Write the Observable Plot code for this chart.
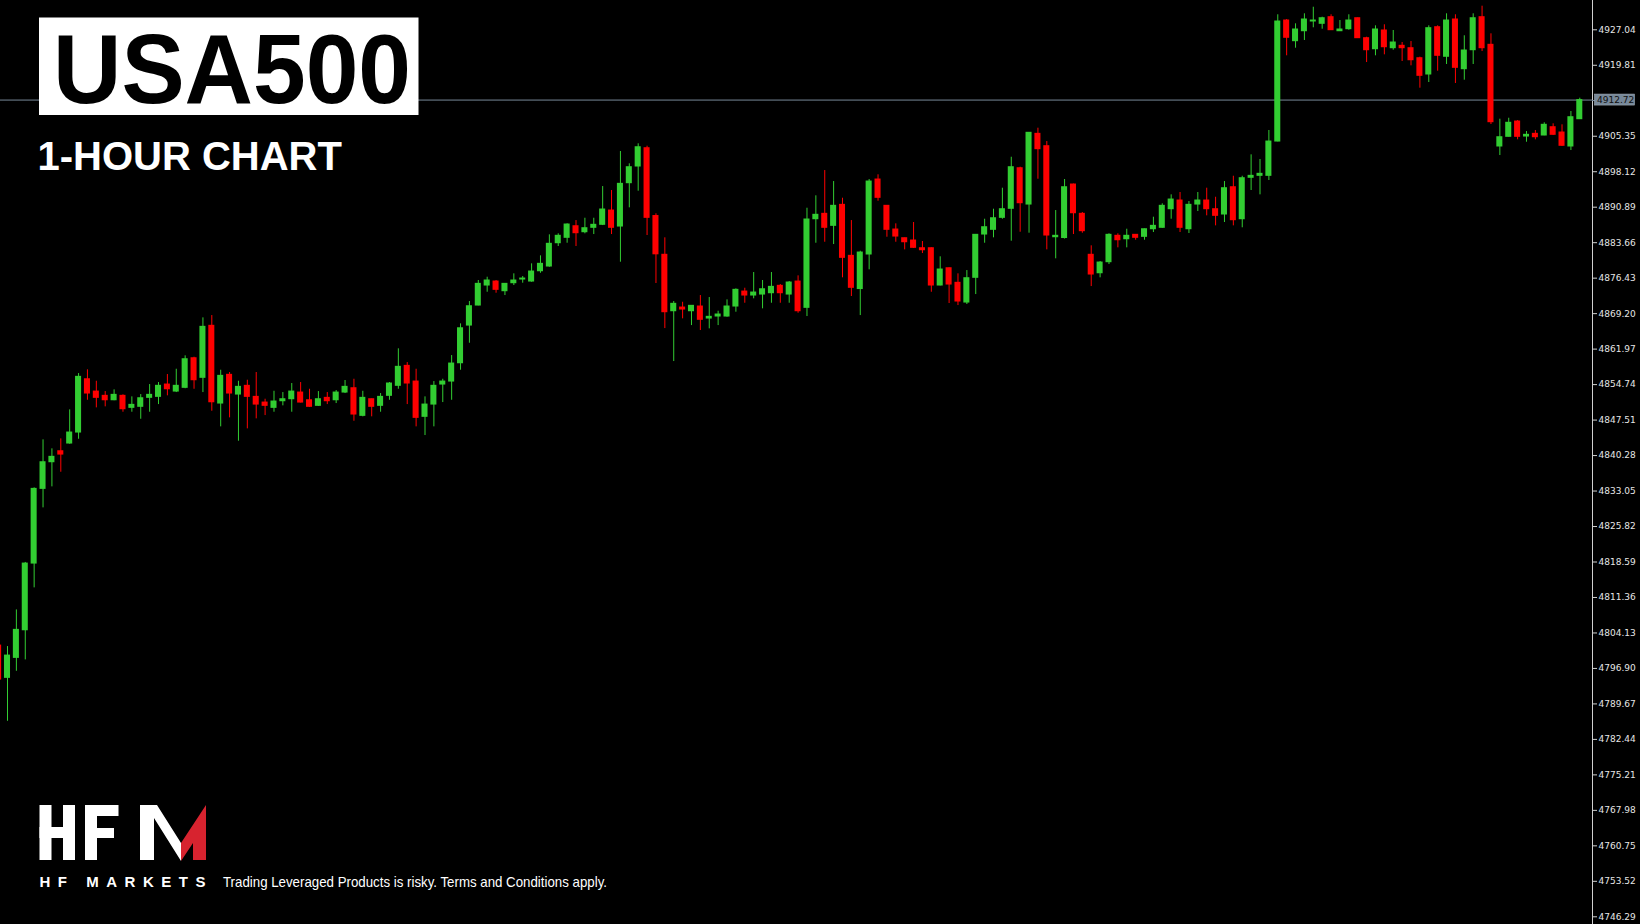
<!DOCTYPE html>
<html>
<head>
<meta charset="utf-8">
<script src="https://cdn.jsdelivr.net/npm/d3@7"></script>
<script src="https://cdn.jsdelivr.net/npm/@observablehq/plot@0.6"></script>
<style>
  html, body { margin: 0; padding: 0; background: #000; }
  #wrap { position: relative; width: 1640px; height: 924px; overflow: hidden; background: #000; }
  #chart { position: absolute; left: 0; top: 0; }
  #overlay { position: absolute; left: 0; top: 0; pointer-events: none; }
</style>
</head>
<body>
<div id="wrap">
  <div id="chart"></div>
  <svg id="overlay" width="1640" height="924" xmlns="http://www.w3.org/2000/svg">
    <rect x="39" y="17.5" width="379.5" height="97.5" fill="#fff"/>
    <text x="53" y="103.3" font-family="Liberation Sans, Arial, sans-serif" font-weight="bold" font-size="97.5" fill="#000" textLength="358" lengthAdjust="spacingAndGlyphs">USA500</text>
    <text x="37.5" y="170" font-family="Liberation Sans, Arial, sans-serif" font-weight="bold" font-size="40" fill="#fff">1-HOUR CHART</text>
    <!-- HFM logo -->
    <g fill="#fff">
      <rect x="39.5" y="805" width="12" height="55"/>
      <rect x="63" y="805" width="12" height="55"/>
      <rect x="39.5" y="827" width="35.5" height="11"/>
      <rect x="85" y="805" width="12" height="55"/>
      <rect x="85" y="805" width="33.5" height="11"/>
      <rect x="85" y="828" width="29" height="10"/>
      <polygon points="140,805 157,805 181,843 181,861 154,818 154,860 140,860"/>
    </g>
    <polygon fill="#d7232f" points="181,843 206,805 206,860 193,860 193,843 181,861"/>
    <text x="39.5" y="887" font-family="Liberation Sans, Arial, sans-serif" font-weight="bold" font-size="15" fill="#fff" textLength="166" lengthAdjust="spacing">HF MARKETS</text>
    <text x="223" y="887" font-family="Liberation Sans, Arial, sans-serif" font-size="14.5" fill="#fff" textLength="384" lengthAdjust="spacingAndGlyphs">Trading Leveraged Products is risky. Terms and Conditions apply.</text>
  </svg>
</div>
<script>
// ---- data ----
const firstIndex = -1;
const open = [4801.56,4794.98,4799.05,4804.68,4818.27,4833.49,4838.92,4841.16,4842.73,4844.97,4855.83,4853.32,4852.45,4851.55,4852.45,4850.00,4850.21,4852.04,4852.24,4854.75,4853.32,4854.08,4860.11,4856.12,4866.72,4850.88,4856.73,4852.71,4854.49,4852.24,4851.08,4850.00,4851.35,4851.76,4853.12,4851.55,4850.41,4852.04,4851.55,4853.12,4854.00,4848.37,4851.76,4850.41,4852.45,4854.49,4858.56,4855.36,4848.17,4850.67,4854.75,4855.36,4859.09,4866.77,4870.85,4874.93,4875.74,4873.77,4875.40,4876.15,4875.74,4877.84,4878.80,4883.55,4884.65,4887.01,4885.79,4886.69,4887.30,4890.21,4886.95,4895.78,4899.18,4902.91,4889.09,4881.19,4869.69,4870.44,4869.69,4870.65,4868.20,4868.61,4868.61,4870.65,4873.70,4872.89,4873.09,4873.36,4874.87,4873.09,4875.74,4870.38,4888.44,4889.54,4887.09,4891.37,4880.98,4874.21,4881.25,4896.53,4891.17,4886.34,4884.57,4884.10,4882.53,4882.53,4874.93,4878.45,4875.48,4871.46,4876.50,4885.32,4886.28,4888.72,4890.56,4898.83,4891.43,4905.84,4903.32,4884.77,4884.61,4895.51,4889.54,4881.19,4877.43,4879.68,4885.06,4884.36,4885.26,4884.85,4886.40,4886.69,4890.48,4892.25,4886.40,4891.43,4892.25,4890.48,4889.40,4894.96,4888.44,4896.88,4897.28,4897.28,4904.27,4928.93,4924.72,4926.75,4928.73,4928.26,4929.61,4926.75,4927.16,4929.40,4925.33,4923.08,4926.90,4923.29,4923.78,4923.29,4921.25,4917.93,4927.57,4921.54,4929.14,4919.01,4922.88,4929.61,4923.98,4903.26,4905.23,4908.35,4905.29,4905.84,4905.50,4907.19,4906.11,4903.26,4908.82];
const high = [4802.2,4801.36,4808.83,4818.5,4833.70,4843.48,4841.65,4843.68,4849.59,4856.99,4857.75,4855.42,4853.32,4853.67,4852.65,4852.24,4852.71,4854.75,4855.16,4856.79,4857.87,4860.60,4860.32,4868.34,4868.81,4857.67,4857.20,4855.42,4855.63,4857.20,4851.76,4853.38,4853.12,4854.96,4855.16,4853.79,4853.32,4853.12,4853.53,4855.57,4855.83,4853.38,4851.80,4852.92,4855.16,4862.03,4859.23,4857.87,4852.24,4855.36,4855.83,4860.66,4867.12,4871.67,4875.95,4876.62,4875.95,4875.30,4877.31,4876.76,4879.35,4880.98,4885.26,4885.47,4887.50,4888.17,4888.64,4888.64,4895.10,4894.29,4902.24,4899.73,4903.81,4903.32,4889.54,4884.65,4871.67,4871.52,4870.80,4872.89,4872.48,4869.69,4872.01,4874.25,4874.38,4877.58,4875.95,4877.58,4875.13,4875.74,4876.90,4890.68,4893.21,4898.36,4896.12,4892.72,4888.17,4881.92,4896.53,4897.49,4891.20,4887.50,4884.60,4887.77,4883.90,4882.60,4880.78,4878.50,4877.31,4877.98,4885.30,4888.44,4890.48,4894.76,4901.07,4899.04,4906.10,4906.99,4904.27,4890.21,4896.53,4895.60,4889.80,4883.02,4879.82,4885.47,4885.47,4886.40,4885.30,4886.45,4888.85,4891.58,4893.41,4893.88,4892.05,4893.88,4894.76,4892.92,4896.12,4897.20,4897.20,4901.56,4900.61,4906.52,4930.10,4929.14,4928.26,4930.30,4931.64,4929.61,4930.10,4928.93,4930.10,4929.45,4925.53,4927.85,4928.06,4926.90,4924.45,4924.65,4921.46,4927.85,4927.85,4930.30,4930.10,4925.82,4930.30,4931.85,4926.22,4908.82,4909.02,4908.55,4906.31,4906.52,4908.09,4907.88,4907.68,4910.39,4913.10];
const low = [4793.6,4786.13,4796.32,4798.64,4813.32,4829.62,4833.90,4836.88,4842.59,4843.60,4851.55,4850.00,4850.21,4851.45,4849.11,4849.11,4847.68,4849.11,4850.67,4852.45,4853.12,4853.90,4853.79,4853.12,4849.31,4846.13,4847.96,4843.20,4845.72,4847.76,4848.43,4849.11,4850.41,4849.11,4851.00,4850.10,4850.30,4850.67,4850.88,4852.92,4847.27,4848.17,4848.17,4849.11,4851.55,4853.79,4850.67,4846.13,4844.36,4846.13,4851.08,4851.55,4857.67,4863.17,4870.80,4873.56,4873.36,4872.89,4874.93,4875.40,4875.60,4877.43,4878.66,4882.88,4883.55,4882.88,4885.47,4885.32,4887.15,4885.32,4879.68,4890.76,4894.15,4885.12,4875.34,4866.16,4859.44,4868.14,4866.77,4865.76,4866.10,4866.77,4868.47,4869.49,4871.32,4872.22,4870.18,4871.32,4871.32,4871.32,4869.28,4868.61,4883.55,4883.75,4883.28,4876.50,4872.69,4868.81,4878.13,4892.11,4884.77,4883.75,4882.20,4882.50,4881.45,4873.56,4874.85,4871.26,4870.85,4871.06,4873.09,4883.55,4884.65,4888.44,4883.96,4885.79,4885.59,4896.59,4882.20,4880.37,4884.40,4885.32,4885.59,4874.72,4876.50,4879.21,4882.61,4882.61,4884.16,4884.16,4885.73,4886.60,4888.44,4885.73,4885.53,4890.01,4889.13,4887.09,4887.77,4887.09,4886.69,4894.29,4893.41,4896.33,4904.20,4921.74,4923.29,4924.86,4927.45,4927.16,4926.90,4926.70,4926.96,4925.28,4920.37,4921.74,4921.94,4922.88,4920.58,4919.70,4915.14,4916.30,4918.60,4919.97,4916.10,4916.77,4919.97,4922.62,4907.74,4901.42,4905.20,4904.62,4904.13,4904.62,4905.45,4905.50,4903.26,4902.44,4908.80];
const close = [4794.63,4799.52,4804.76,4818.27,4833.49,4838.92,4840.02,4840.48,4844.97,4856.32,4852.92,4852.04,4851.55,4852.65,4849.72,4850.61,4851.96,4852.65,4854.49,4853.79,4854.49,4859.91,4855.63,4866.51,4851.14,4856.52,4852.92,4854.28,4852.24,4850.67,4850.41,4851.29,4851.76,4853.32,4851.08,4850.21,4851.76,4851.35,4853.12,4854.28,4848.64,4852.04,4850.21,4852.24,4854.96,4858.36,4854.96,4847.96,4850.67,4854.49,4855.36,4859.03,4866.22,4870.71,4875.27,4875.95,4874.05,4875.27,4875.95,4876.35,4877.78,4879.35,4883.43,4885.06,4887.36,4885.59,4886.61,4887.30,4890.42,4886.69,4895.65,4899.04,4903.11,4888.72,4881.29,4869.49,4871.20,4870.04,4870.79,4867.94,4868.55,4869.02,4870.65,4874.05,4872.89,4873.50,4874.17,4874.66,4873.36,4875.54,4869.69,4888.38,4889.34,4886.69,4891.17,4880.57,4874.46,4881.65,4896.12,4892.80,4886.28,4884.91,4883.75,4882.61,4882.12,4874.93,4878.19,4875.13,4871.67,4876.42,4885.26,4886.81,4888.64,4890.48,4899.04,4891.70,4906.05,4902.71,4885.12,4885.06,4894.96,4889.66,4886.00,4877.17,4879.61,4885.26,4884.16,4885.06,4884.65,4886.40,4887.09,4891.17,4892.45,4886.69,4891.37,4892.25,4890.48,4889.13,4894.76,4888.24,4896.80,4897.28,4897.69,4904.27,4928.73,4925.41,4927.10,4929.14,4928.93,4929.40,4926.96,4927.10,4928.93,4925.33,4922.88,4927.10,4923.49,4924.45,4923.29,4920.84,4917.66,4927.37,4921.74,4928.93,4919.29,4922.82,4929.40,4923.29,4908.21,4905.15,4908.09,4905.23,4905.64,4905.15,4907.68,4905.64,4903.40,4909.23,4912.72];
const tickLabels = ["4927.04","4919.81","4905.35","4898.12","4890.89","4883.66","4876.43","4869.20","4861.97","4854.74","4847.51","4840.28","4833.05","4825.82","4818.59","4811.36","4804.13","4796.90","4789.67","4782.44","4775.21","4767.98","4760.75","4753.52","4746.29"];
const lastPrice = 4912.72;
const upColor = "#32cd32";
const downColor = "#ff0000";

const candles = open.map((o, k) => ({
  i: firstIndex + k, open: o, high: high[k], low: low[k], close: close[k],
  up: close[k] >= o
}));
const lastI = candles[candles.length - 1].i;
const tickValues = tickLabels.map(Number);
const colorOf = d => d.up ? upColor : downColor;

const W = 1640, H = 924, axisX = 1592;
const chart = Plot.plot({
  width: W, height: H,
  marginLeft: 0, marginRight: W - axisX, marginTop: 0, marginBottom: 0,
  style: { background: "#000", color: "#e0e0e0", fontFamily: "DejaVu Sans, sans-serif", fontSize: "9px", overflow: "visible" },
  x: { type: "linear", domain: [firstIndex, lastI], range: [7 + 8.883 * firstIndex, 7 + 8.883 * lastI], axis: null },
  y: { domain: [4746.29, 4927.04], range: [916.3, 29.3], axis: null },
  marks: [
    Plot.ruleY([lastPrice], { stroke: "#778899", strokeWidth: 1 }),
    Plot.ruleX(candles, { x: "i", y1: "low", y2: "high", stroke: colorOf, strokeWidth: 1, clip: true }),
    Plot.rect(candles, {
      x1: d => d.i - 0.34, x2: d => d.i + 0.34, y1: "open", y2: "close",
      fill: colorOf, insetTop: -0.5, insetBottom: -0.5, clip: true
    }),
    Plot.axisY(tickValues, {
      anchor: "right", tickSize: 4, tickPadding: 2,
      tickFormat: (d, k) => tickLabels[k], fill: "#e6e6e6", stroke: "#d0d0d0", fontSize: 9
    })
  ]
});
document.getElementById("chart").appendChild(chart);

// right-hand axis line and current-price label
const svg = d3.select(chart);
const ys = chart.scale("y");
svg.append("line").attr("x1", axisX + 0.5).attr("x2", axisX + 0.5).attr("y1", 0).attr("y2", H)
  .attr("stroke", "#d0d0d0").attr("stroke-width", 1);
const py = ys.apply(lastPrice);
svg.append("line").attr("x1", axisX).attr("x2", axisX + 4).attr("y1", Math.round(py) + 0.5).attr("y2", Math.round(py) + 0.5)
  .attr("stroke", "#778899");
svg.append("rect").attr("x", axisX + 2.5).attr("y", py - 5.5).attr("width", 40).attr("height", 11)
  .attr("fill", "#778899").attr("stroke", "#a0aab4").attr("stroke-width", 0.6);
svg.append("text").attr("x", axisX + 5).attr("y", py).attr("dy", "0.35em")
  .attr("text-anchor", "start")
  .attr("font-family", "DejaVu Sans, sans-serif").attr("font-size", 9).attr("fill", "#101010")
  .text(lastPrice.toFixed(2));
</script>
</body>
</html>
